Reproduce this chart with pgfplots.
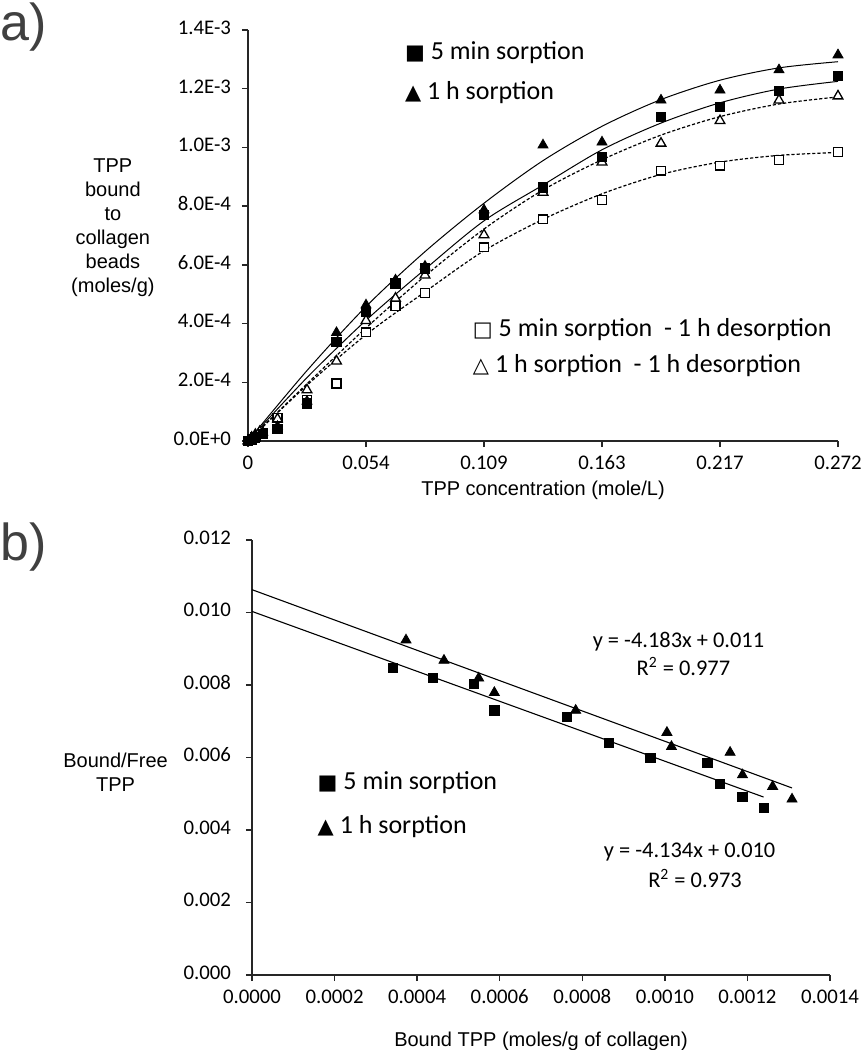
\documentclass[border=0pt]{standalone}
\usepackage{pgfplots}
\pgfplotsset{compat=1.18}
\usepackage{fontspec}
\setmainfont{Liberation Sans}
\newfontfamily\calibri[Numbers=Lining]{Carlito}
\newfontfamily\dejavu{DejaVu Sans}
\definecolor{titlegray}{RGB}{64,64,64}
\newcommand{\mk}[1]{{\dejavu\fontsize{10.5}{10.5}\selectfont #1}\hspace{3pt}}

\pgfplotstableread{
x y
0 0
0.0017 0.000008
0.0034 0.000015
0.0068 0.000025
0.0136 0.000040
0.0272 0.000128
0.0408 0.000338
0.0544 0.000440
0.068 0.000537
0.0816 0.000588
0.1088 0.000770
0.136 0.000864
0.1632 0.000967
0.1904 0.001105
0.2176 0.001139
0.2448 0.001192
0.272 0.001243
}\fivemin
\pgfplotstableread{
x y
0 0
0.0017 0.000010
0.0034 0.000018
0.0068 0.000030
0.0136 0.000049
0.0272 0.000135
0.0408 0.000369
0.0544 0.000463
0.068 0.000548
0.0816 0.000595
0.1088 0.000787
0.136 0.001008
0.1632 0.001018
0.1904 0.001161
0.2176 0.001195
0.2448 0.001264
0.272 0.001315
}\onehour
\pgfplotstableread{
x y
0 0
0.0017 0.000005
0.0034 0.000012
0.0068 0.000028
0.0136 0.000079
0.0272 0.000140
0.0408 0.000196
0.0544 0.000370
0.068 0.000460
0.0816 0.000505
0.1088 0.000660
0.136 0.000755
0.1632 0.000821
0.1904 0.000921
0.2176 0.000938
0.2448 0.000957
0.272 0.000985
}\fiveminde
\pgfplotstableread{
x y
0 0
0.0017 0.000012
0.0034 0.000022
0.0054 0.000032
0.0136 0.000075
0.0272 0.000174
0.0408 0.000272
0.0544 0.000410
0.068 0.000486
0.0816 0.000565
0.1088 0.000702
0.136 0.000847
0.1632 0.000950
0.1904 0.001014
0.2176 0.001091
0.2448 0.001161
0.272 0.001175
}\onehourde
% trend curves
\pgfplotstableread{
x y
0 0
0.0272 0.000240
0.0544 0.000458
0.0816 0.000645
0.1088 0.000810
0.136 0.000955
0.1632 0.001072
0.1904 0.001163
0.2176 0.001229
0.2448 0.001271
0.272 0.001292
}\fitonehour
\pgfplotstableread{
x y
0 0
0.0272 0.000216
0.0544 0.000411
0.0816 0.000585
0.1088 0.000750
0.136 0.000872
0.1632 0.000992
0.1904 0.001083
0.2176 0.001152
0.2448 0.001199
0.272 0.001225
}\fitfivemin
\pgfplotstableread{
x y
0 0
0.0272 0.000195
0.0544 0.000385
0.0816 0.000562
0.1088 0.000722
0.136 0.000855
0.1632 0.000958
0.1904 0.001042
0.2176 0.001105
0.2448 0.001148
0.272 0.001172
}\fitonehourde
\pgfplotstableread{
x y
0 0
0.0272 0.000190
0.0544 0.000362
0.0816 0.000508
0.1088 0.000648
0.136 0.000755
0.1632 0.000842
0.1904 0.000908
0.2176 0.000950
0.2448 0.000973
0.272 0.000983
}\fitfiveminde
\pgfplotstableread{
x y
0.000341 0.00848
0.000439 0.00819
0.000538 0.00803
0.000587 0.00730
0.000763 0.00711
0.000864 0.00641
0.000965 0.00599
0.001103 0.00586
0.001134 0.00527
0.001188 0.00492
0.001239 0.00462
}\scfive
\pgfplotstableread{
x y
0.000373 0.00924
0.000465 0.00868
0.000549 0.00819
0.000587 0.00779
0.000784 0.00730
0.001005 0.00669
0.001016 0.00630
0.001158 0.00614
0.001188 0.00552
0.001261 0.00520
0.001308 0.00485
}\scone

\pgfplotsset{
  common/.style={
    scale only axis,
    axis lines*=left,
    axis line style={black!85, line width=0.7pt},
    tick style={black!85, line width=0.7pt},
    tick align=outside,
    major tick length=3pt,
    scaled ticks=false,
    clip=false,
    typeset ticklabels with strut,
    tick label style={font=\calibri\fontsize{10.4}{11}\selectfont, text=black},
    x label style={font=\fontsize{11.6}{12.5}\selectfont, text=titlegray},
    y label style={font=\fontsize{11.2}{11.6}\selectfont, text=titlegray},
  },
  sqf/.style={only marks, mark=square*, mark size=2.3pt, mark options={fill=black, draw=black}},
  trf/.style={only marks, mark=triangle*, mark size=2.9pt, mark options={fill=black, draw=black}},
  sqo/.style={only marks, mark=square*, mark size=2.2pt, mark options={fill=white, draw=black, line width=0.65pt}},
  tro/.style={only marks, mark=triangle*, mark size=2.8pt, mark options={fill=white, draw=black, line width=0.65pt}},
}

\begin{document}
\begin{tikzpicture}[x=1pt,y=1pt]
\path[use as bounding box] (0,0) rectangle (433,-525);
\node[anchor=north west, inner sep=0, font=\fontsize{26}{26}\selectfont, text=titlegray] at (0,-1) {a)};
\node[anchor=north west, inner sep=0, font=\fontsize{26}{26}\selectfont, text=titlegray] at (0,-261) {b)};

\begin{axis}[common,
  at={(124pt,-220.5pt)}, anchor=south west,
  width=295pt, height=205.5pt,
  xmin=0, xmax=0.272, ymin=0, ymax=0.0014,
  xtick={0,0.0544,0.1088,0.1632,0.2176,0.272},
  xticklabels={0,0.054,0.109,0.163,0.217,0.272},
  ytick={0,0.0002,0.0004,0.0006,0.0008,0.0010,0.0012,0.0014},
  yticklabels={0.0E+0,2.0E-4,4.0E-4,6.0E-4,8.0E-4,1.0E-3,1.2E-3,1.4E-3},
  yticklabel style={xshift=-2pt},
  xlabel={TPP concentration (mole/L)},
  ylabel={TPP\\bound\\to\\collagen\\beads\\(moles/g)},
  every axis x label/.style={at={(rel axis cs:0.5,-0.12)}, anchor=center},
  every axis y label/.style={at={(rel axis cs:-0.229,0.52)}, anchor=center, align=center},
]
\addplot[black, line width=0.5pt, smooth] table {\fitonehour};
\addplot[black, line width=0.5pt, smooth] table {\fitfivemin};
\addplot[black, line width=0.6pt, smooth, dash pattern=on 1.6pt off 1pt] table {\fitonehourde};
\addplot[black, line width=0.6pt, smooth, dash pattern=on 1.6pt off 1pt] table {\fitfiveminde};
\addplot[sqo] table {\fiveminde};
\addplot[tro] table {\onehourde};
\addplot[sqf] table {\fivemin};
\addplot[trf] table {\onehour};
\node[anchor=west, inner sep=0, font=\calibri\fontsize{13}{13}\selectfont] at (axis cs:0.0722,0.001322) {\mk{■}5 min sorption};
\node[anchor=west, inner sep=0, font=\calibri\fontsize{13}{13}\selectfont] at (axis cs:0.0722,0.001187) {\mk{▲}1 h sorption};
\node[anchor=west, inner sep=0, font=\calibri\fontsize{13}{13}\selectfont] at (axis cs:0.1035,0.000378) {\mk{□}5 min sorption\ \ - 1 h desorption};
\node[anchor=west, inner sep=0, font=\calibri\fontsize{13}{13}\selectfont] at (axis cs:0.1035,0.000258) {\mk{△}1 h sorption\ \ - 1 h desorption};
\end{axis}

\begin{axis}[common,
  at={(126pt,-487.5pt)}, anchor=south west,
  width=289pt, height=217.5pt,
  xmin=0, xmax=0.0014, ymin=0, ymax=0.012,
  xtick={0,0.0002,0.0004,0.0006,0.0008,0.0010,0.0012,0.0014},
  xticklabels={0.0000,0.0002,0.0004,0.0006,0.0008,0.0010,0.0012,0.0014},
  ytick={0,0.002,0.004,0.006,0.008,0.010,0.012},
  yticklabels={0.000,0.002,0.004,0.006,0.008,0.010,0.012},
  yticklabel style={xshift=-4pt},
  xlabel={Bound TPP (moles/g of collagen)},
  ylabel={Bound/Free\\TPP},
  every axis x label/.style={at={(rel axis cs:0.5,-0.152)}, anchor=center},
  every axis y label/.style={at={(rel axis cs:-0.236,0.467)}, anchor=center, align=center},
]
\addplot[black, line width=0.55pt] coordinates {(0,0.01063) (0.001308,0.00516)};
\addplot[black, line width=0.55pt] coordinates {(0,0.01003) (0.001239,0.00491)};
\addplot[sqf] table {\scfive};
\addplot[trf] table {\scone};
\node[anchor=center, font=\calibri\fontsize{11.2}{12}\selectfont] at (axis cs:0.001033,0.0092) {y = -4.183x + 0.011};
\node[anchor=center, font=\calibri\fontsize{11.2}{12}\selectfont] at (axis cs:0.001045,0.0085) {R\textsuperscript{2} = 0.977};
\node[anchor=center, font=\calibri\fontsize{11.2}{12}\selectfont] at (axis cs:0.00106,0.0034) {y = -4.134x + 0.010};
\node[anchor=center, font=\calibri\fontsize{11.2}{12}\selectfont] at (axis cs:0.001073,0.00265) {R\textsuperscript{2} = 0.973};
\node[anchor=west, inner sep=0, font=\calibri\fontsize{13}{13}\selectfont] at (axis cs:0.000158,0.0053) {\mk{■}5 min sorption};
\node[anchor=west, inner sep=0, font=\calibri\fontsize{13}{13}\selectfont] at (axis cs:0.000158,0.0041) {\mk{▲}1 h sorption};
\end{axis}
\end{tikzpicture}
\end{document}
